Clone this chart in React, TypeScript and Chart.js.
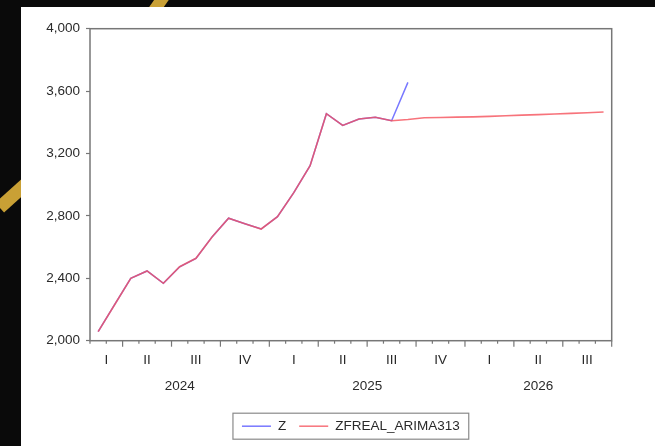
import React, { useEffect, useRef } from "react";
import { Chart, registerables } from "chart.js";

Chart.register(...registerables);

// ---- data ----
const categories = [
  "2024-02", "2024-03", "2024-04", "2024-05", "2024-06", "2024-07", "2024-08", "2024-09",
  "2024-10", "2024-11", "2024-12", "2025-01", "2025-02", "2025-03", "2025-04", "2025-05",
  "2025-06", "2025-07", "2025-08", "2025-09", "2025-10", "2025-11", "2025-12", "2026-01",
  "2026-02", "2026-03", "2026-04", "2026-05", "2026-06", "2026-07", "2026-08", "2026-09",
];

const zValues: (number | null)[] = [
  2058, 2229, 2400, 2447, 2368, 2474, 2528, 2667, 2785, 2750, 2716, 2795, 2949, 3122, 3455, 3380,
  3421, 3432, 3410, 3656, null, null, null, null, null, null, null, null, null, null, null, null,
];

const zfrealValues: number[] = [
  2058, 2229, 2400, 2447, 2368, 2474, 2528, 2667, 2785, 2750, 2716, 2795, 2949, 3122, 3455, 3380,
  3421, 3432, 3410, 3418, 3429, 3431, 3433, 3435, 3438, 3442, 3446, 3449, 3453, 3457, 3461, 3466,
];

const seriesLabels = ["Z", "ZFREAL_ARIMA313"];
const quarterNames = ["I", "II", "III", "IV"];
const yMin = 2000;
const yMax = 4000;
const yStep = 400;

const FONT = "'Liberation Sans', Arial, sans-serif";
const FONT_SIZE = 13.5;
const TEXT = "#2a2a2a";
const AXIS = "#777777";

const axisPlugin = {
  id: "evAxis",
  afterDraw(chart: any) {
    const ctx = chart.ctx as CanvasRenderingContext2D;
    const xs = chart.scales.x;
    const area = chart.chartArea;
    const n = categories.length;
    const half = (xs.getPixelForValue(1) - xs.getPixelForValue(0)) / 2;
    const months = categories.map((c) => parseInt(c.split("-")[1], 10));
    const years = categories.map((c) => c.split("-")[0]);

    ctx.save();
    // frame
    ctx.strokeStyle = AXIS;
    ctx.lineWidth = 1.5;
    ctx.strokeRect(area.left, area.top, area.right - area.left, area.bottom - area.top);

    // month / quarter ticks
    ctx.lineWidth = 1.2;
    for (let i = 0; i <= n; i++) {
      const bx = i < n ? xs.getPixelForValue(i) - half : xs.getPixelForValue(n - 1) + half;
      const major = i < n ? months[i] % 3 === 1 : months[n - 1] % 3 === 0;
      const len = major ? 6 : 3;
      ctx.beginPath();
      ctx.moveTo(bx, area.bottom);
      ctx.lineTo(bx, area.bottom + len);
      ctx.stroke();
    }

    // quarter labels
    ctx.fillStyle = TEXT;
    ctx.font = `${FONT_SIZE}px ${FONT}`;
    ctx.textAlign = "center";
    ctx.textBaseline = "middle";
    const groups = (keyOf: (i: number) => string) => {
      const out: { key: string; first: number; last: number }[] = [];
      for (let i = 0; i < n; i++) {
        const k = keyOf(i);
        const g = out[out.length - 1];
        if (g && g.key === k) g.last = i;
        else out.push({ key: k, first: i, last: i });
      }
      return out;
    };
    groups((i) => years[i] + "-" + Math.floor((months[i] - 1) / 3)).forEach((g) => {
      const q = Math.floor((months[g.first] - 1) / 3);
      const px = xs.getPixelForValue((g.first + g.last) / 2);
      ctx.fillText(quarterNames[q], px, area.bottom + 19.5);
    });
    groups((i) => years[i]).forEach((g) => {
      const px = xs.getPixelForValue((g.first + g.last) / 2);
      ctx.fillText(g.key, px, area.bottom + 46);
    });

    // legend box
    const ds = chart.data.datasets;
    const pad = 9, lineLen = 29, gap = 7, itemGap = 13;
    let w = pad * 2;
    ds.forEach((d: any, i: number) => {
      w += lineLen + gap + ctx.measureText(d.label).width + (i < ds.length - 1 ? itemGap : 0);
    });
    const cx = (area.left + area.right) / 2;
    const cy = area.bottom + 85.5;
    const bh = 26;
    let lx = cx - w / 2;
    ctx.strokeStyle = "#8a8a8a";
    ctx.lineWidth = 1.2;
    ctx.strokeRect(lx, cy - bh / 2, w, bh);
    lx += pad;
    ctx.textAlign = "left";
    ds.forEach((d: any) => {
      ctx.strokeStyle = d.borderColor;
      ctx.lineWidth = 1.5;
      ctx.beginPath();
      ctx.moveTo(lx, cy);
      ctx.lineTo(lx + lineLen, cy);
      ctx.stroke();
      lx += lineLen + gap;
      ctx.fillStyle = TEXT;
      ctx.fillText(d.label, lx, cy + 0.5);
      lx += ctx.measureText(d.label).width + itemGap;
    });
    ctx.restore();
  },
};

export default function App() {
  const ref = useRef<HTMLCanvasElement | null>(null);

  useEffect(() => {
    if (!ref.current) return;
    const chart = new Chart(ref.current, {
      type: "line",
      data: {
        labels: categories,
        datasets: [
          {
            label: seriesLabels[0],
            data: zValues,
            borderColor: "rgb(120,120,255)",
            borderWidth: 1.5,
            pointRadius: 0,
            tension: 0,
            fill: false,
            order: 1,
          },
          {
            label: seriesLabels[1],
            data: zfrealValues,
            borderColor: "rgba(245,80,90,0.8)",
            borderWidth: 1.6,
            pointRadius: 0,
            tension: 0,
            fill: false,
            order: 0,
          },
        ],
      },
      options: {
        responsive: false,
        animation: false,
        events: [],
        layout: { padding: { top: 21.7, right: 43.3, left: 0, bottom: 0 } },
        plugins: { legend: { display: false }, tooltip: { enabled: false } },
        scales: {
          x: {
            type: "category",
            offset: true,
            grid: { display: false },
            border: { display: false },
            ticks: { display: false },
            afterFit: (s: any) => {
              s.height = 105.3;
            },
          },
          y: {
            min: yMin,
            max: yMax,
            ticks: {
              stepSize: yStep,
              color: TEXT,
              padding: 6,
              font: { family: FONT, size: FONT_SIZE },
              callback: (v: any) => Number(v).toLocaleString("en-US"),
            },
            grid: { drawOnChartArea: false, drawTicks: true, tickLength: 4, tickColor: AXIS, tickWidth: 1.2 },
            border: { display: false },
            afterFit: (s: any) => {
              s.width = 69;
            },
          },
        },
      },
      plugins: [axisPlugin],
    });
    return () => chart.destroy();
  }, []);

  return (
    <div style={{ position: "fixed", left: 0, top: 0, width: 655, height: 446, background: "#0a0a0a", overflow: "hidden" }}>
      <div style={{ position: "absolute", left: -8, top: 181, width: 60, height: 13, background: "#c9a035", transform: "rotate(-42deg)" }} />
      <div style={{ position: "absolute", left: 140, top: -4, width: 40, height: 12, background: "#c9a035", transform: "rotate(-55deg)" }} />
      <div style={{ position: "absolute", left: 21, top: 7, width: 634, height: 439, background: "#ffffff" }}>
        <canvas ref={ref} width={634} height={439} style={{ display: "block" }} />
      </div>
    </div>
  );
}
